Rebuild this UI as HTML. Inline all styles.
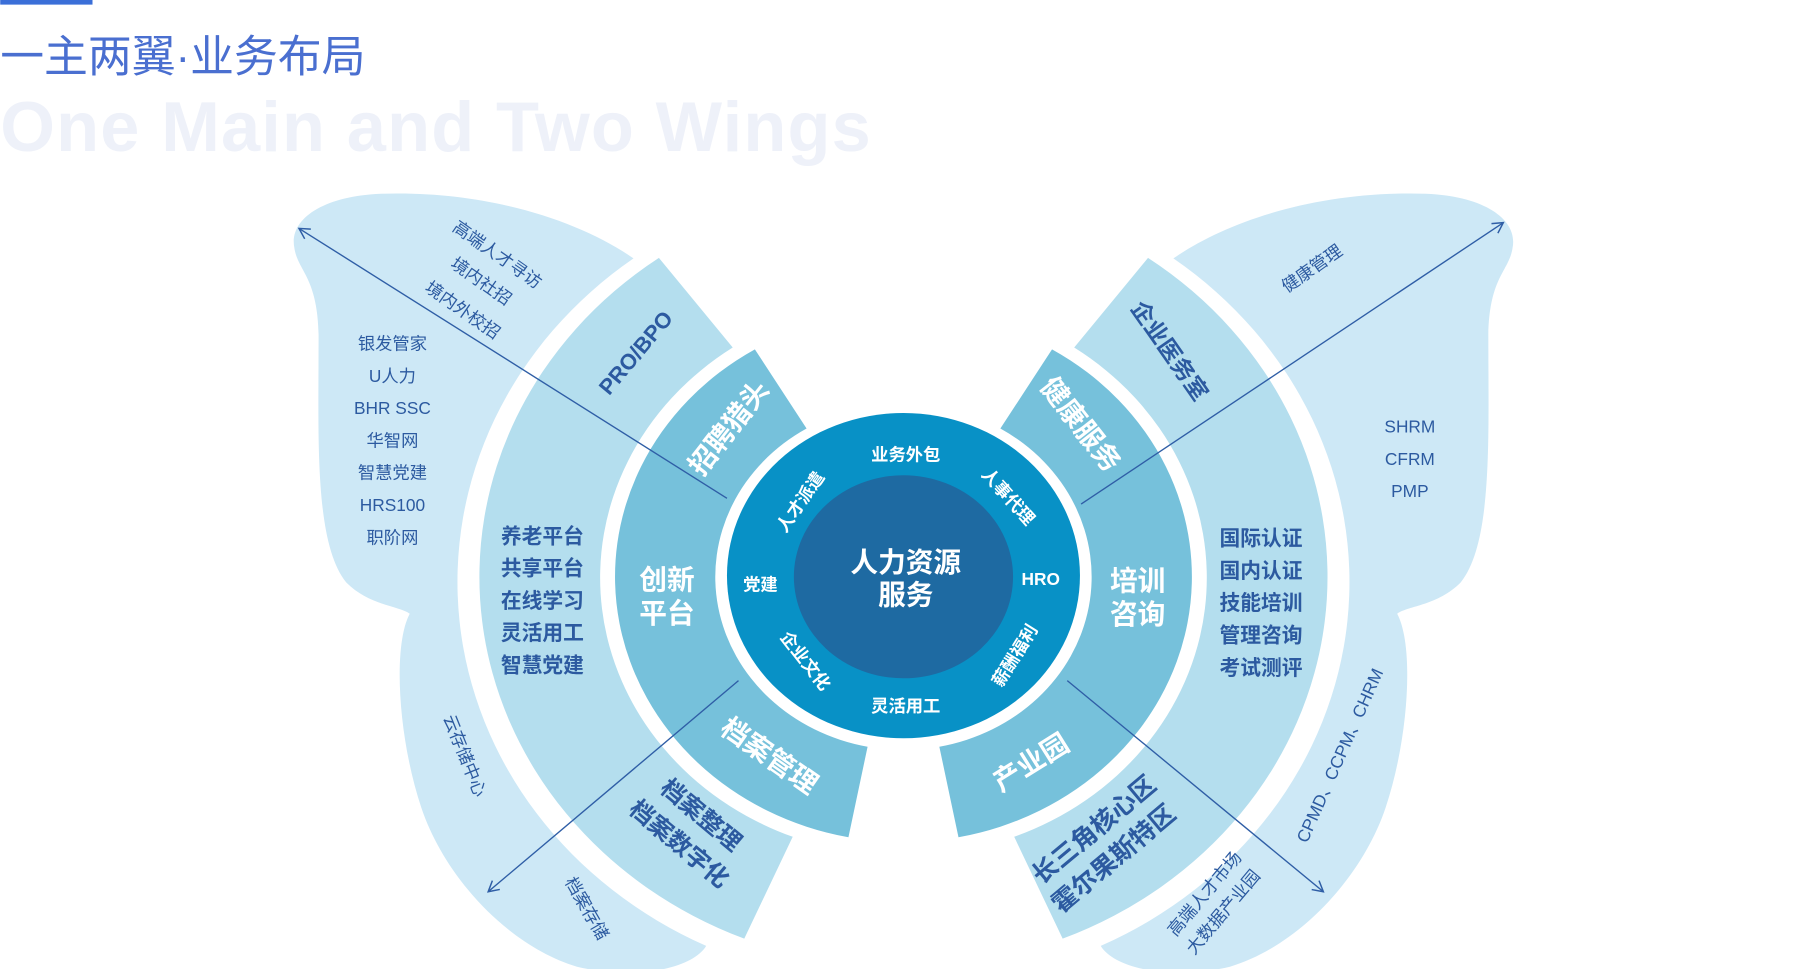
<!DOCTYPE html>
<html><head><meta charset="utf-8"><style>
html,body{margin:0;padding:0;background:#fff;width:1800px;height:969px;overflow:hidden}
svg{display:block}
text{font-family:"Liberation Sans","Noto Sans CJK SC",sans-serif}
</style></head><body>
<svg width="1800" height="969" viewBox="0 0 1560 840" xmlns="http://www.w3.org/2000/svg">
<defs>
<marker id="ah" markerWidth="12" markerHeight="12" refX="10" refY="6" orient="auto" markerUnits="userSpaceOnUse">
<path d="M1,1 L10,6 L1,11" fill="none" stroke="#2f5ea6" stroke-width="1.3"/>
</marker>
<g id="half">
<path d="M549,224 C500,190 420,165 330,168 C280,170 250,190 255,215 C258,235 275,240 276,290 C276,380 272,470 300,505 C320,525 345,525 355,532 C340,560 345,640 365,700 C385,760 440,820 500,838 C550,850 600,840 612,820 A380 350 0 0 1 549 224 Z" fill="#cde8f6"/>
<g transform="translate(783,500) scale(1,0.92)">
<path d="M-212 -300.5 A368 368 0 0 0 -138 341 L-96 245 A262 262 0 0 1 -148 -216 Z" fill="#b4deee"/>
<path d="M-128.8 -214.3 A250 250 0 0 0 -47.7 245.4 L-31.1 160.1 A163 163 0 0 1 -84 -139.7 Z" fill="#76c1db"/>
</g>
</g>
</defs>
<rect x="0" y="0" width="80" height="4" fill="#3b6fd8"/>
<text x="0" y="62" font-size="38" fill="#4a6fd0">一主两翼·业务布局</text>
<text x="0" y="131" font-size="61" font-weight="bold" fill="#eef1f9" letter-spacing="1">One Main and Two Wings</text>

<use href="#half"/>
<use href="#half" transform="translate(1566,0) scale(-1,1)"/>

<ellipse cx="783" cy="499" rx="153" ry="141" fill="#0891c6"/>
<ellipse cx="783" cy="500" rx="95" ry="88" fill="#1e6aa2"/>

<g stroke="#2f5ea6" stroke-width="1.2" fill="none">
<line x1="630" y1="432" x2="259" y2="198" marker-end="url(#ah)"/>
<line x1="937" y1="437" x2="1303" y2="193" marker-end="url(#ah)"/>
<line x1="640" y1="590" x2="423" y2="773" marker-end="url(#ah)"/>
<line x1="925" y1="590" x2="1147" y2="773" marker-end="url(#ah)"/>
</g>

<g fill="#fff" font-weight="bold" text-anchor="middle">
<text x="785" y="496" font-size="24">人力资源</text>
<text x="785" y="524" font-size="24">服务</text>
<text x="785" y="399" font-size="15">业务外包</text>
<text x="902" y="507" font-size="15">HRO</text>
<text x="785" y="617" font-size="15">灵活用工</text>
<text x="659" y="512" font-size="15">党建</text>
<text font-size="15" transform="translate(870,434) rotate(48)">人事代理</text>
<text font-size="15" transform="translate(884,571) rotate(-58)">薪酬福利</text>
<text font-size="15" transform="translate(694,576) rotate(52)">企业文化</text>
<text font-size="15" transform="translate(698,438) rotate(-55)">人才派遣</text>
<text font-size="24" transform="translate(638,376) rotate(-52)">招聘猎头</text>
<text font-size="24" transform="translate(930,373) rotate(52)">健康服务</text>
<text x="578" y="511" font-size="24">创新</text>
<text x="578" y="540" font-size="24">平台</text>
<text x="986" y="512" font-size="24">培训</text>
<text x="986" y="541" font-size="24">咨询</text>
<text font-size="24" transform="translate(662,662) rotate(35)">档案管理</text>
<text font-size="24" transform="translate(898,668) rotate(-32)">产业园</text>
</g>

<g fill="#2c5aa0" font-weight="bold" text-anchor="middle">
<text font-size="19" transform="translate(556,310) rotate(-50)">PRO/BPO</text>
<text font-size="20" transform="translate(1008,308) rotate(55)">企业医务室</text>
<text x="470" y="471" font-size="18">养老平台</text>
<text x="470" y="499" font-size="18">共享平台</text>
<text x="470" y="527" font-size="18">在线学习</text>
<text x="470" y="555" font-size="18">灵活用工</text>
<text x="470" y="583" font-size="18">智慧党建</text>
<text x="1093" y="473" font-size="18">国际认证</text>
<text x="1093" y="501" font-size="18">国内认证</text>
<text x="1093" y="529" font-size="18">技能培训</text>
<text x="1093" y="557" font-size="18">管理咨询</text>
<text x="1093" y="585" font-size="18">考试测评</text>
<text font-size="21" transform="translate(603,712) rotate(40)">档案整理</text>
<text font-size="21" transform="translate(584,737) rotate(40)">档案数字化</text>
<text font-size="22" transform="translate(953,725) rotate(-40)">长三角核心区</text>
<text font-size="22" transform="translate(970,750) rotate(-40)">霍尔果斯特区</text>
</g>

<g fill="#2c5aa0" font-size="15" text-anchor="middle">
<text transform="translate(428,225) rotate(35)">高端人才寻访</text>
<text transform="translate(414,248) rotate(35)">境内社招</text>
<text transform="translate(398,273) rotate(35)">境内外校招</text>
<text x="340" y="303">银发管家</text>
<text x="340" y="331">U人力</text>
<text x="340" y="359">BHR SSC</text>
<text x="340" y="387">华智网</text>
<text x="340" y="415">智慧党建</text>
<text x="340" y="443">HRS100</text>
<text x="340" y="471">职阶网</text>
<text transform="translate(398,657) rotate(68)">云存储中心</text>
<text transform="translate(504,790) rotate(60)">档案存储</text>
<text transform="translate(1140,237) rotate(-35)">健康管理</text>
<text x="1222" y="375">SHRM</text>
<text x="1222" y="403">CFRM</text>
<text x="1222" y="431">PMP</text>
<text transform="translate(1166,657) rotate(-66)">CPMD、CCPM、CHRM</text>
<text transform="translate(1048,778) rotate(-50)">高端人才市场</text>
<text transform="translate(1064,794) rotate(-50)">大数据产业园</text>
</g>
</svg>
</body></html>
